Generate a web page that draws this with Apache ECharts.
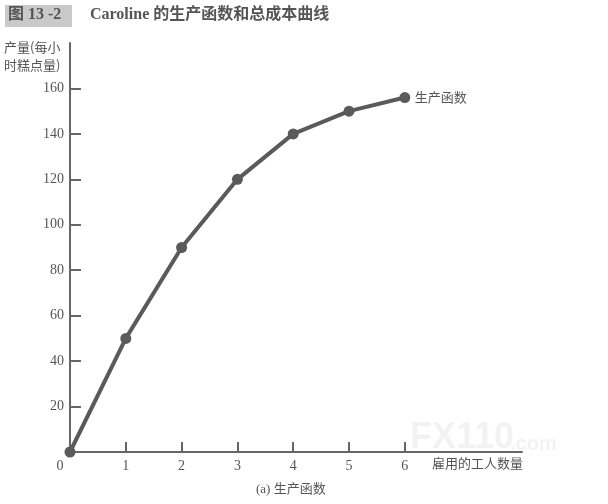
<!DOCTYPE html>
<html><head><meta charset="utf-8">
<script src="https://cdn.jsdelivr.net/npm/echarts@6/dist/echarts.min.js"></script>
<style>html,body{margin:0;padding:0;background:#fff}#c{width:608px;height:504px}</style>
</head><body><div id="c"></div>
<script>
const workers = [0, 1, 2, 3, 4, 5, 6];
const output = [0, 50, 90, 120, 140, 150, 156];
const xTickValues = [1, 2, 3, 4, 5, 6];
const xLabelValues = [0, 1, 2, 3, 4, 5, 6];
const yTickValues = [20, 40, 60, 80, 100, 120, 140, 160];
const seriesName = '生产函数';
const figTag = '图 13 -2';
const titleText = 'Caroline 的生产函数和总成本曲线';
const yName = ['产量(每小', '时糕点量)'];
const xName = '雇用的工人数量';
const caption = '(a) 生产函数';

const serif = '"Liberation Serif", "Noto Sans CJK SC", serif';
const cjk = '"Noto Sans CJK SC", "Liberation Serif", serif';
const txt = '#555';
const axisCol = '#666';

const chart = echarts.init(document.getElementById('c'));
chart.setOption({
  backgroundColor: '#fff',
  animation: false,
  grid: { left: 70, top: 43, right: 86, bottom: 52 },
  xAxis: {
    type: 'value', min: 0, max: 8.1,
    splitLine: { show: false },
    axisLine: { lineStyle: { color: axisCol, width: 2 } },
    axisTick: { inside: true, length: 10, customValues: xTickValues, lineStyle: { color: axisCol, width: 2 } },
    axisLabel: {
      customValues: xLabelValues, color: txt, fontFamily: serif, fontSize: 14, margin: 7,
      formatter: v => v === 0 ? '{z|0}' : String(v),
      rich: { z: { padding: [0, 20, 0, 0], color: txt, fontFamily: serif, fontSize: 14 } }
    }
  },
  yAxis: {
    type: 'value', min: 0, max: 180,
    splitLine: { show: false },
    axisLine: { lineStyle: { color: axisCol, width: 2 } },
    axisTick: { inside: true, length: 11, customValues: yTickValues, lineStyle: { color: axisCol, width: 2 } },
    axisLabel: { customValues: yTickValues, color: txt, fontFamily: serif, fontSize: 14, margin: 6 }
  },
  series: [{
    name: seriesName, type: 'line',
    data: workers.map((w, i) => [w, output[i]]),
    symbol: 'circle', symbolSize: 11,
    lineStyle: { color: '#5a5a5a', width: 4 },
    itemStyle: { color: '#5a5a5a' },
    endLabel: { show: true, formatter: seriesName, color: txt, fontFamily: cjk, fontSize: 13, distance: 10 }
  }],
  graphic: [
    { type: 'rect', left: 5, top: 5, shape: { width: 67, height: 22 }, style: { fill: '#c9c9c9' } },
    { type: 'text', left: 8, top: 7, style: { text: figTag, fill: '#555', font: 'bold 16px ' + serif } },
    { type: 'text', left: 90, top: 7, style: { text: titleText, fill: '#555', font: 'bold 16px ' + serif } },
    { type: 'text', left: 4, top: 38, style: { text: yName.join('\n'), fill: txt, font: '13px ' + cjk, lineHeight: 18 } },
    { type: 'text', left: 432, top: 457, style: { text: xName, fill: txt, font: '13px ' + cjk } },
    { type: 'text', left: 256, top: 483, style: { text: caption, fill: txt, font: '13px ' + serif } },
    { type: 'text', left: 410, top: 420, style: { text: 'FX110', fill: 'rgba(0,0,0,0.05)', font: 'bold 36px "Liberation Sans", sans-serif' } },
    { type: 'text', left: 510, top: 434, style: { text: '.com', fill: 'rgba(0,0,0,0.05)', font: 'bold 20px "Liberation Sans", sans-serif' } }
  ]
});
</script></body></html>
